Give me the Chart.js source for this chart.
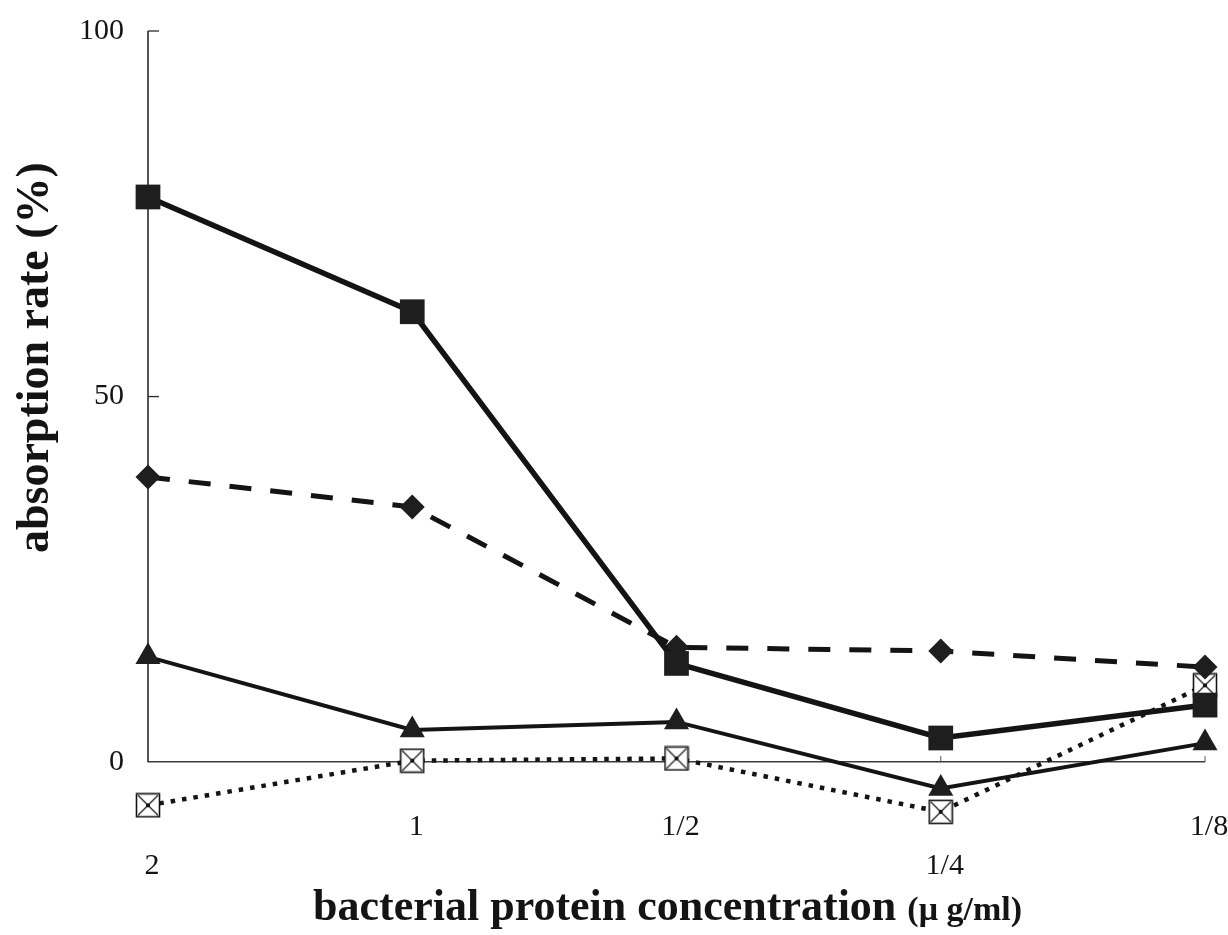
<!DOCTYPE html>
<html>
<head>
<meta charset="utf-8">
<script src="https://cdn.jsdelivr.net/npm/chart.js@4/dist/chart.umd.min.js"></script>
<style>
  html, body { margin: 0; padding: 0; background: #fff; }
  #wrap { width: 1228px; height: 935px; }
</style>
</head>
<body>
<div id="wrap"><canvas id="c" width="1228" height="935"></canvas></div>
<script>
// ---- data ----
const categories = ['2', '1', '1/2', '1/4', '1/8'];
const loweredTickLabels = ['2', '1/4'];
const yTickValues = [0, 50, 100];
const squareSeries = [77.3, 61.6, 13.5, 3.3, 7.8];
const diamondSeries = [39.0, 34.9, 15.7, 15.2, 13.0];
const triangleSeries = [14.4, 4.4, 5.5, -3.6, 2.6];
const boxCrossSeries = [-5.9, 0.2, 0.5, -6.8, 10.5];
const xTitleMain = 'bacterial protein concentration ';
const xTitleUnit = '(\u03BC g/ml)';
const yTitle = 'absorption rate (%)';

const INK = '#141414';
const SERIF = '"Liberation Serif", "Times New Roman", "DejaVu Serif", serif';

// square with X marker
function makeBoxCross() {
  const s = 26;
  const cv = document.createElement('canvas');
  cv.width = s; cv.height = s;
  const g = cv.getContext('2d');
  g.fillStyle = '#fff';
  g.fillRect(1, 1, s - 2, s - 2);
  g.strokeStyle = INK;
  g.lineWidth = 1.6;
  g.strokeRect(1.5, 1.5, s - 3, s - 3);
  g.lineWidth = 1.1;
  g.beginPath();
  g.moveTo(3, 3); g.lineTo(s - 3, s - 3);
  g.moveTo(s - 3, 3); g.lineTo(3, s - 3);
  g.stroke();
  g.fillStyle = INK;
  g.fillRect(s / 2 - 2, s / 2 - 2, 4, 4);
  return cv;
}
const boxCross = makeBoxCross();

const axisPlugin = {
  id: 'axisLines',
  beforeDatasetsDraw(chart) {
    const { ctx } = chart;
    const x = chart.scales.x, y = chart.scales.y;
    const x0 = x.getPixelForValue(0);
    const yTop = y.getPixelForValue(100);
    const yZero = y.getPixelForValue(0);
    ctx.save();
    ctx.strokeStyle = '#2a2a2a';
    ctx.lineWidth = 1.6;
    ctx.beginPath();
    ctx.moveTo(x0, yTop); ctx.lineTo(x0, yZero);
    ctx.stroke();
    ctx.lineWidth = 1.3;
    yTickValues.forEach(v => {
      if (v === 0) return;
      const p = y.getPixelForValue(v);
      ctx.beginPath(); ctx.moveTo(x0, p); ctx.lineTo(x0 + 11, p); ctx.stroke();
    });
    ctx.lineWidth = 1;
    ctx.strokeStyle = '#555';
    categories.forEach((c, i) => {
      if (i === 0) return;
      const p = x.getPixelForValue(i);
      ctx.beginPath(); ctx.moveTo(p, yZero); ctx.lineTo(p, yZero - 6); ctx.stroke();
    });
    ctx.restore();
  },
  afterDraw(chart) {
    const { ctx, chartArea } = chart;
    const y = chart.scales.y;
    ctx.save();
    ctx.fillStyle = INK;
    ctx.textBaseline = 'alphabetic';
    const fMain = 'bold 44px ' + SERIF;
    const fUnit = 'bold 34px ' + SERIF;
    ctx.font = fMain;
    const w1 = ctx.measureText(xTitleMain).width;
    ctx.font = fUnit;
    const w2 = ctx.measureText(xTitleUnit).width;
    const cx = (chartArea.left + chartArea.right) / 2 - 9;
    const sx = cx - (w1 + w2) / 2;
    ctx.font = fMain;
    ctx.textAlign = 'left';
    ctx.fillText(xTitleMain, sx, 920);
    ctx.font = fUnit;
    ctx.fillText(xTitleUnit, sx + w1, 920);
    ctx.translate(48, (y.getPixelForValue(100) + y.getPixelForValue(0)) / 2 - 39);
    ctx.rotate(-Math.PI / 2);
    ctx.font = 'bold 46px ' + SERIF;
    ctx.textAlign = 'center';
    ctx.fillText(yTitle, 0, 0);
    ctx.restore();
  }
};

const common = { clip: false, tension: 0, fill: false };

new Chart(document.getElementById('c'), {
  type: 'line',
  data: {
    labels: categories,
    datasets: [
      Object.assign({
        label: 'square', data: squareSeries,
        borderColor: INK, borderWidth: 5.5,
        pointStyle: 'rect', pointRadius: 17.5,
        pointBackgroundColor: '#1e1e1e', pointBorderColor: '#1e1e1e', pointBorderWidth: 0
      }, common),
      Object.assign({
        label: 'diamond', data: diamondSeries,
        borderColor: INK, borderWidth: 5, borderDash: [22, 19],
        pointStyle: 'rectRot', pointRadius: 12.5,
        pointBackgroundColor: '#1e1e1e', pointBorderColor: '#1e1e1e', pointBorderWidth: 0
      }, common),
      Object.assign({
        label: 'triangle', data: triangleSeries,
        borderColor: INK, borderWidth: 4,
        pointStyle: 'triangle', pointRadius: 14.5,
        pointBackgroundColor: '#1e1e1e', pointBorderColor: '#1e1e1e', pointBorderWidth: 0
      }, common),
      Object.assign({
        label: 'boxcross', data: boxCrossSeries,
        borderColor: INK, borderWidth: 4.5, borderDash: [4.5, 7],
        pointStyle: boxCross, pointRadius: 13
      }, common)
    ]
  },
  options: {
    responsive: false,
    devicePixelRatio: 1,
    animation: false,
    events: [],
    layout: { padding: { top: 31, right: 23, left: 0, bottom: 0 } },
    plugins: { legend: { display: false }, tooltip: { enabled: false }, title: { display: false } },
    scales: {
      x: {
        type: 'category',
        offset: false,
        border: { display: false },
        grid: { display: false, drawTicks: false },
        ticks: {
          autoSkip: false, maxRotation: 0, padding: 2, labelOffset: 4,
          color: INK,
          font: { family: SERIF, size: 30, lineHeight: 1.3 },
          callback: (v, i) => loweredTickLabels.includes(categories[i]) ? ['', categories[i]] : categories[i]
        },
        afterFit: s => { s.height = 935 - 806; s.paddingTop = 0; }
      },
      y: {
        min: -6, max: 100,
        border: { display: false },
        grid: {
          drawTicks: false,
          lineWidth: 1.4,
          color: c => (c.tick && c.tick.value === 0) ? '#3a3a3a' : 'rgba(0,0,0,0)'
        },
        afterBuildTicks: s => { s.ticks = yTickValues.map(v => ({ value: v })); },
        ticks: {
          padding: 24, color: INK,
          font: { family: SERIF, size: 30 }
        },
        afterFit: s => { s.width = 148; s.paddingTop = 0; s.paddingBottom = 0; }
      }
    }
  },
  plugins: [axisPlugin]
});
</script>
</body>
</html>
